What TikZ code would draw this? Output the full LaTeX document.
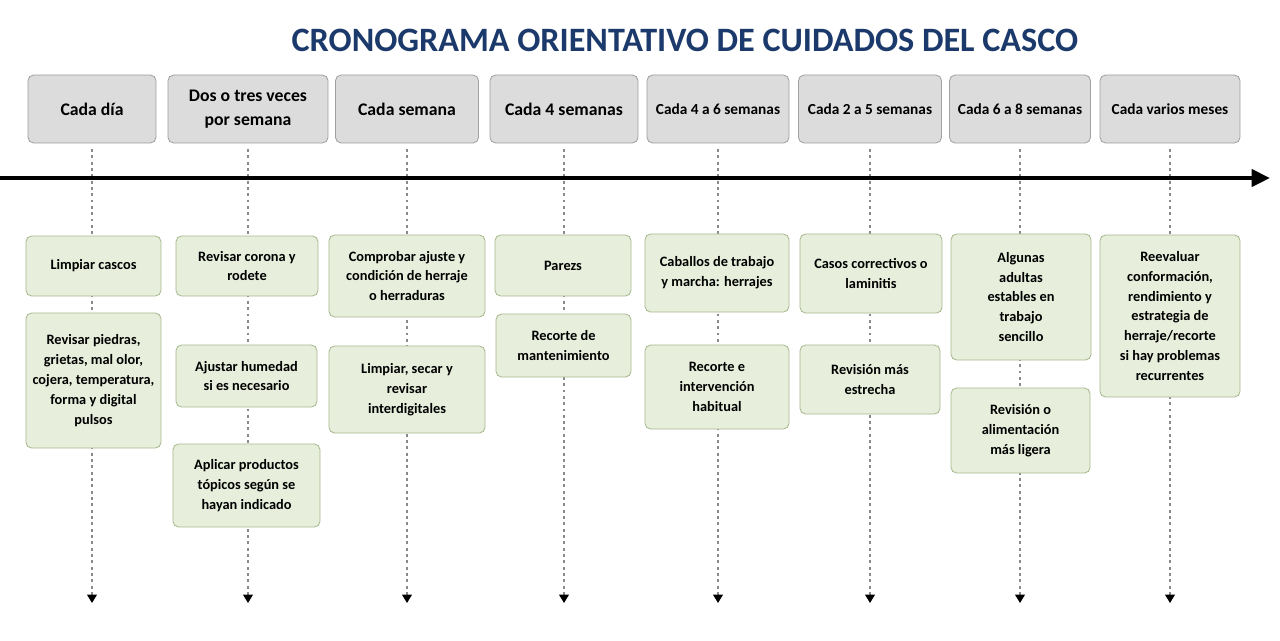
\documentclass[tikz,border=0pt]{standalone}
\usepackage{fontspec}
\setmainfont{Carlito}
\usetikzlibrary{arrows.meta}

\definecolor{navy}{HTML}{1B3A6B}
\definecolor{hdrgray}{HTML}{DCDCDC}
\definecolor{hdrline}{HTML}{A0A0A0}
\definecolor{lightgreen}{HTML}{E7EEDB}
\definecolor{greenline}{HTML}{A7B98F}
\definecolor{dotgray}{HTML}{8A8A8A}

\tikzset{
  period/.style={shape=rectangle, rounded corners=4pt, draw=hdrline, fill=hdrgray, line width=0.6pt,
    align=center, font=\bfseries\fontsize{12.6}{17}\selectfont},
  smallperiod/.style={period, font=\bfseries\fontsize{10.9}{14}\selectfont},
  task/.style={shape=rectangle, rounded corners=4pt, draw=greenline, fill=lightgreen, line width=0.6pt,
    align=center, font=\bfseries\fontsize{10.2}{14.2}\selectfont},
  guide/.style={draw=dotgray, line width=0.9pt, dash pattern=on 2pt off 2.5pt, shorten <=4pt,
    -{Triangle[black,length=6pt,width=7pt]}}
}

\begin{document}
\begin{tikzpicture}[x=0.025cm,y=-0.025cm]
        \useasboundingbox (0,0) rectangle (1280,640);
        \node[font=\bfseries\fontsize{24.3}{28}\selectfont, text=navy] (title) at (685,40) {CRONOGRAMA ORIENTATIVO DE CUIDADOS DEL CASCO};
        % periods
        \node[period, minimum width=3.2cm, minimum height=1.7cm] (p1) at (92,109) {Cada día};
        \node[period, minimum width=4.0cm, minimum height=1.7cm] (p2) at (248,109) {Dos o tres veces\\por semana};
        \node[period, minimum width=3.575cm, minimum height=1.7cm] (p3) at (407,109) {Cada semana};
        \node[period, minimum width=3.7cm, minimum height=1.7cm] (p4) at (564,109) {Cada 4 semanas};
        \node[smallperiod, minimum width=3.55cm, minimum height=1.7cm] (p5) at (718,109) {Cada 4 a 6 semanas};
        \node[smallperiod, minimum width=3.575cm, minimum height=1.7cm] (p6) at (870,109) {Cada 2 a 5 semanas};
        \node[smallperiod, minimum width=3.525cm, minimum height=1.7cm] (p7) at (1020,109) {Cada 6 a 8 semanas};
        \node[smallperiod, minimum width=3.5cm, minimum height=1.7cm] (p8) at (1170,109) {Cada varios meses};
        % guide ends
        \coordinate (e1) at (92,603);
        \coordinate (e2) at (248,603);
        \coordinate (e3) at (407,603);
        \coordinate (e4) at (564,603);
        \coordinate (e5) at (718,603);
        \coordinate (e6) at (870,603);
        \coordinate (e7) at (1020,603);
        \coordinate (e8) at (1170,603);
        \foreach \i in {1,...,8} {
            \draw[guide] (p\i.south) -- (e\i);
        }
        % time axis
        \coordinate (t0) at (0,178);
        \coordinate (t1) at (1270,178);
        \draw[line width=2.8pt, -{Triangle[length=13pt,width=12pt]}] (t0) -- (t1);
        % tasks
        \node[task, minimum width=3.375cm, minimum height=1.5cm] (a1) at (93.5,266) {Limpiar cascos};
        \node[task, minimum width=3.375cm, minimum height=3.375cm] (a2) at (93.5,380.5) {Revisar piedras,\\grietas, mal olor,\\cojera, temperatura,\\forma y digital\\pulsos};
        \node[task, minimum width=3.55cm, minimum height=1.5cm] (b1) at (247,266) {Revisar corona y\\rodete};
        \node[task, minimum width=3.525cm, minimum height=1.55cm] (b2) at (246.5,376) {Ajustar humedad\\si es necesario};
        \node[task, minimum width=3.675cm, minimum height=2.075cm] (b3) at (246.5,485.5) {Aplicar productos\\tópicos según se\\hayan indicado};
        \node[task, minimum width=3.9cm, minimum height=2.05cm] (c1) at (407,276) {Comprobar ajuste y\\condición de herraje\\o herraduras};
        \node[task, minimum width=3.9cm, minimum height=2.175cm] (c2) at (407,389.5) {Limpiar, secar y\\revisar\\interdigitales};
        \node[task, minimum width=3.4cm, minimum height=1.525cm] (d1) at (563,265.5) {Parezs};
        \node[task, minimum width=3.375cm, minimum height=1.575cm] (d2) at (563.5,345.5) {Recorte de\\mantenimiento};
        \node[task, minimum width=3.6cm, minimum height=1.95cm] (f1) at (717,273) {Caballos de trabajo\\y marcha: herrajes};
        \node[task, minimum width=3.6cm, minimum height=2.1cm] (f2) at (717,387) {Recorte e\\intervención\\habitual};
        \node[task, minimum width=3.55cm, minimum height=1.975cm] (g1) at (871,273.5) {Casos correctivos o\\laminitis};
        \node[task, minimum width=3.5cm, minimum height=1.725cm] (g2) at (870,379.5) {Revisión más\\estrecha};
        \node[task, minimum width=3.5cm, minimum height=3.15cm] (h1) at (1021,297) {Algunas\\adultas\\estables en\\trabajo\\sencillo};
        \node[task, minimum width=3.475cm, minimum height=2.125cm] (h2) at (1020.5,430.5) {Revisión o\\alimentación\\más ligera};
        \node[task, minimum width=3.5cm, minimum height=4.05cm] (k1) at (1170,316) {Reevaluar\\conformación,\\rendimiento y\\estrategia de\\herraje/recorte\\si hay problemas\\recurrentes};
    \end{tikzpicture}
\end{document}
